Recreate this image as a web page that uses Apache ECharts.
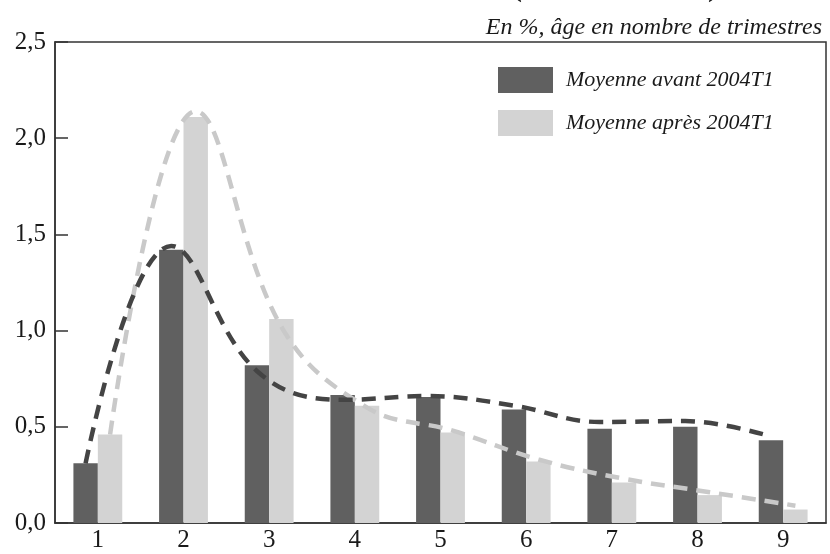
<!DOCTYPE html>
<html><head><meta charset="utf-8">
<script src="https://cdn.jsdelivr.net/npm/echarts@6/dist/echarts.min.js"></script>
<style>html,body{margin:0;padding:0;background:#fff}#c{width:830px;height:554px}</style>
</head><body><div id="c"></div>
<script>
var categories = ['1','2','3','4','5','6','7','8','9'];
var avant = [0.31, 1.42, 0.82, 0.665, 0.655, 0.59, 0.49, 0.50, 0.43];
var apres = [0.46, 2.11, 1.06, 0.61, 0.47, 0.32, 0.21, 0.145, 0.07];
var courbeAvant = [0.31, 1.44, 0.79, 0.64, 0.66, 0.61, 0.525, 0.53, 0.45];
var courbeApres = [0.46, 2.14, 1.02, 0.6, 0.48, 0.33, 0.23, 0.16, 0.09];
var yTicks = [0, 0.5, 1.0, 1.5, 2.0, 2.5];
var nameAvant = 'Moyenne avant 2004T1';
var nameApres = 'Moyenne après 2004T1';
var subtitle = 'En %, âge en nombre de trimestres';

var serif = '"Liberation Serif", "DejaVu Serif", serif';
var chart = echarts.init(document.getElementById('c'));
var off = 0.143;
function pts(arr, d){ return arr.map(function(v,i){ return [i+1+d, v]; }); }
chart.setOption({
  animation:false,
  backgroundColor:'#fff',
  title:{ text: subtitle, right: 3, top: 11,
    textStyle:{ fontFamily: serif, fontStyle:'italic', fontWeight:'normal', fontSize:24, color:'#1a1a1a' } },
  graphic:[
    { type:'text', left:512, top:-27, style:{ text:'(', font:'bold 30px '+serif, fill:'#1a1a1a' } },
    { type:'text', left:708, top:-27, style:{ text:')', font:'bold 30px '+serif, fill:'#1a1a1a' } }
  ],
  legend:{ data:[nameAvant, nameApres], orient:'vertical', left:493, top:62,
    itemWidth:55, itemHeight:26, itemGap:17, icon:'rect',
    textStyle:{ fontFamily: serif, fontStyle:'italic', fontSize:22, color:'#1a1a1a', padding:[0,0,0,8] } },
  grid:{ left:55, right:4, top:42, bottom:31, show:true, borderColor:'#333', borderWidth:1.5, backgroundColor:'transparent' },
  xAxis:[
    { type:'category', data:categories, axisTick:{show:false},
      axisLine:{ lineStyle:{ color:'#333', width:1.5 } },
      axisLabel:{ fontFamily: serif, fontSize:25, color:'#1a1a1a', margin:5 } },
    { type:'value', min:0.5, max:9.5, show:false }
  ],
  yAxis:{ type:'value', min:yTicks[0], max:yTicks[yTicks.length-1], interval:0.5,
    splitLine:{show:false},
    axisLine:{ show:true, lineStyle:{ color:'#333', width:1.5 } },
    axisTick:{ show:true, inside:true, length:13, lineStyle:{ color:'#333', width:1.5 } },
    axisLabel:{ fontFamily: serif, fontSize:25, color:'#1a1a1a', margin:9,
      formatter:function(v){ return v.toFixed(1).replace('.', ','); } } },
  series:[
    { name:nameAvant, type:'bar', data:avant, barGap:'0%', barCategoryGap:'43%', itemStyle:{ color:'#606060' } },
    { name:nameApres, type:'bar', data:apres, itemStyle:{ color:'#d3d3d3' } },
    { name:'courbeApres', type:'line', xAxisIndex:1, data:pts(courbeApres, off), smooth:0.4, symbol:'none',
      lineStyle:{ color:'#c9c9c9', width:4.5, type:[14,9] }, z:3 },
    { name:'courbeAvant', type:'line', xAxisIndex:1, data:pts(courbeAvant, -off), smooth:0.4, symbol:'none',
      lineStyle:{ color:'#444', width:4.5, type:[14,9] }, z:4 }
  ]
});
</script></body></html>
